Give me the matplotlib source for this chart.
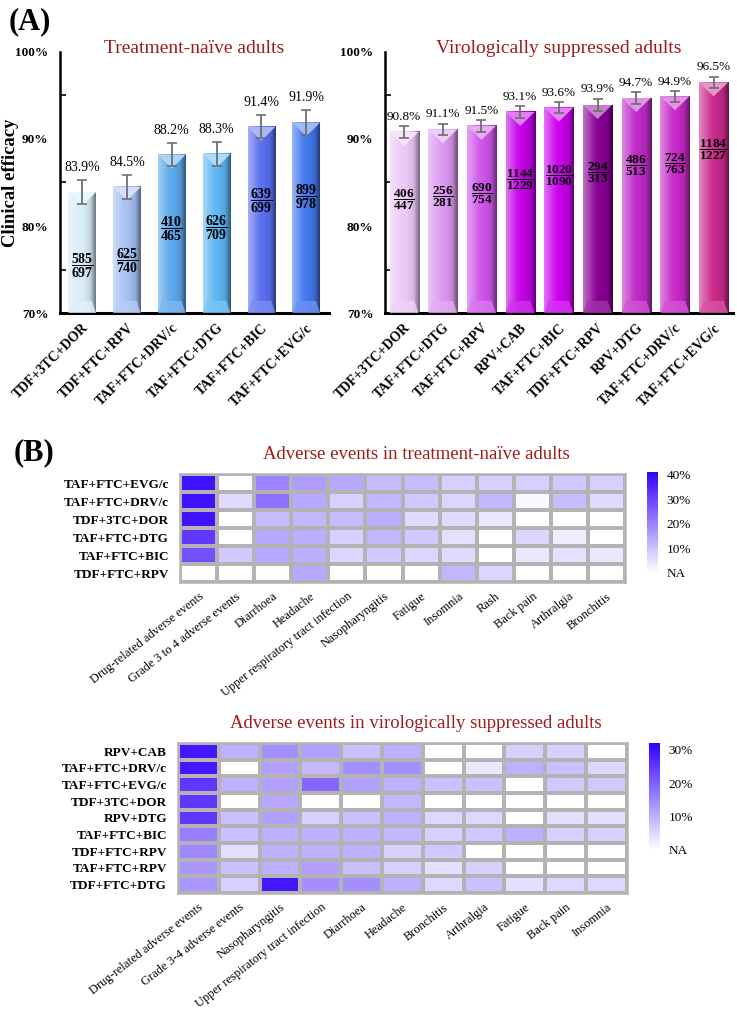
import matplotlib
matplotlib.use('Agg')
import matplotlib.pyplot as plt
import matplotlib.colors as mcolors
from matplotlib.patches import Polygon
import numpy as np

plt.rcParams['font.family'] = ['Liberation Serif', 'DejaVu Serif']
plt.rcParams['mathtext.fontset'] = 'custom'
plt.rcParams['mathtext.rm'] = 'Liberation Serif'
plt.rcParams['mathtext.bf'] = 'Liberation Serif:bold'

# ---- panel A data ----
naive_regimens = ['TDF+3TC+DOR', 'TDF+FTC+RPV', 'TAF+FTC+DRV/c', 'TAF+FTC+DTG',
                  'TAF+FTC+BIC', 'TAF+FTC+EVG/c']
naive_eff = [83.9, 84.5, 88.2, 88.3, 91.4, 91.9]
naive_err = [1.4, 1.35, 1.35, 1.35, 1.3, 1.4]
naive_num = [585, 625, 410, 626, 639, 899]
naive_den = [697, 740, 465, 709, 699, 978]
naive_colors = ['#d8ecfa', '#a4c0f4', '#5aa8ec', '#5cb6f2', '#5a6ff0', '#4477ee']

supp_regimens = ['TDF+3TC+DOR', 'TAF+FTC+DTG', 'TAF+FTC+RPV', 'RPV+CAB', 'TAF+FTC+BIC',
                 'TDF+FTC+RPV', 'RPV+DTG', 'TAF+FTC+DRV/c', 'TAF+FTC+EVG/c']
supp_eff = [90.8, 91.1, 91.5, 93.1, 93.6, 93.9, 94.7, 94.9, 96.5]
supp_err = [0.65, 0.65, 0.65, 0.65, 0.65, 0.7, 0.65, 0.6, 0.65]
supp_num = [406, 256, 690, 1144, 1020, 294, 486, 724, 1184]
supp_den = [447, 281, 754, 1229, 1090, 313, 513, 763, 1227]
supp_colors = ['#ecc8f6', '#dc98f0', '#cf55ea', '#c400e6', '#cc00f0', '#8a0096',
               '#c02ac8', '#c828c8', '#cc2a8c']

# ---- panel B data ----
ae1_rows = ['TAF+FTC+EVG/c', 'TAF+FTC+DRV/c', 'TDF+3TC+DOR', 'TAF+FTC+DTG',
            'TAF+FTC+BIC', 'TDF+FTC+RPV']
ae1_cols = ['Drug-related adverse events', 'Grade 3 to 4 adverse events', 'Diarrhoea',
            'Headache', 'Upper respiratory tract infection', 'Nasopharyngitis', 'Fatigue',
            'Insomnia', 'Rash', 'Back pain', 'Arthralgia', 'Bronchitis']
ae1_vals = [
    [38, 0, 20, 16, 14, 11, 11, 8, 8, 8, 9, 8],
    [38, 6, 23, 14, 8, 12, 9, 7, 12, 1.5, 11, 6],
    [38, 0, 11, 12, 11, 13, 6, 6, 4, 0, 0, 0],
    [32, 0, 14, 13, 8, 12, 9, 5, 0, 7, 3, 0],
    [28, 9, 14, 13, 7, 9, 7, 6, 0, 4, 5, 4],
    [0, 0, 0, 14, 0, 0, 0, 12, 7, 0, 0, 0],
]

ae2_rows = ['RPV+CAB', 'TAF+FTC+DRV/c', 'TAF+FTC+EVG/c', 'TDF+3TC+DOR', 'RPV+DTG',
            'TAF+FTC+BIC', 'TDF+FTC+RPV', 'TAF+FTC+RPV', 'TDF+FTC+DTG']
ae2_cols = ['Drug-related adverse events', 'Grade 3-4 adverse events', 'Nasopharyngitis',
            'Upper respiratory tract infection', 'Diarrhoea', 'Headache', 'Bronchitis',
            'Arthralgia', 'Fatigue', 'Back pain', 'Insomnia']
ae2_vals = [
    [29, 10, 14, 12, 8, 10, 0, 0, 6, 6, 0],
    [29, 0, 12, 9, 14, 14, 0, 3, 10, 8, 5],
    [25, 10, 12, 19, 12, 10, 8, 8, 0, 7, 7],
    [25, 0, 11, 0, 0, 9, 0, 0, 0, 0, 0],
    [25, 8, 12, 6, 8, 10, 5, 5, 0, 4, 4],
    [16, 8, 10, 10, 10, 9, 6, 7, 10, 6, 6],
    [15, 4, 10, 10, 10, 6, 7, 0, 0, 0, 0],
    [13, 8, 10, 12, 8, 6, 4, 6, 0, 0, 0],
    [13, 6, 29, 14, 14, 10, 5, 8, 4, 5, 5],
]

title_red = '#9e1b1b'


def mix(rgb, s):
    rgb = np.asarray(rgb)
    if s >= 0:
        return rgb + (1 - rgb) * s
    return rgb * (1 + s)


def shade_bars(ax, bars, colors, ybase):
    # fake 3D look: horizontal gradient, light notch on top, bevel at bottom
    t = np.linspace(0, 1, 80)
    s = np.interp(t, [0, 0.4, 0.8, 1], [0.45, 0.05, -0.1, -0.5])
    for rect, c in zip(bars, colors):
        base = np.array(mcolors.to_rgb(c))
        img = np.clip(np.array([[mix(base, v) for v in s]] * 2), 0, 1)
        x0, w, h = rect.get_x(), rect.get_width(), rect.get_height()
        ax.imshow(img, extent=[x0, x0 + w, ybase, h], aspect='auto',
                  interpolation='bilinear', zorder=2)
        rect.set_visible(False)
        dh = 1.6
        tri = Polygon([[x0, h], [x0 + w, h], [x0 + w / 2, h - dh]], closed=True,
                      facecolor=mix(base, 0.5), edgecolor='none', zorder=3)
        ax.add_patch(tri)
        bev = Polygon([[x0, ybase], [x0 + w, ybase], [x0 + w * 0.85, ybase + 1.4],
                       [x0 + w * 0.15, ybase + 1.4]], closed=True,
                      facecolor=mix(base, 0.2), edgecolor='none', alpha=0.8, zorder=3)
        ax.add_patch(bev)


def bar_panel(ax, labels, vals, errs, nums, dens, colors, width, title, pct_size, frac_off,
              pct_gap, frac_size):
    x = np.arange(len(labels))
    bars = ax.bar(x, vals, width, color=colors, zorder=2)
    shade_bars(ax, bars, colors, 70)
    ax.errorbar(x, vals, yerr=errs, fmt='none', ecolor='#6e6e6e', elinewidth=1.3,
                capsize=3.5, capthick=1.2, zorder=5)
    for xi, v, e, n, d in zip(x, vals, errs, nums, dens):
        ax.text(xi, v + e + pct_gap, '%.1f%%' % v, ha='center', va='bottom',
                fontsize=pct_size, zorder=6)
        ax.text(xi, v - frac_off, r'$\dfrac{\mathbf{%d}}{\mathbf{%d}}$' % (n, d),
                ha='center', va='center', fontsize=frac_size, zorder=6)
    ax.set_xlim(-0.5, len(labels) - 0.5)
    ax.set_ylim(70, 100)
    ax.set_yticks([70, 80, 90, 100])
    ax.set_yticklabels(['70%', '80%', '90%', '100%'], fontweight='bold', fontsize=9.5)
    ax.set_yticks([75, 85, 95], minor=True)
    ax.tick_params(axis='y', which='major', length=0, pad=8)
    ax.tick_params(axis='y', which='minor', length=4, direction='in', width=1.2)
    ax.set_xticks(x)
    ax.set_xticklabels(labels, rotation=45, ha='right', rotation_mode='anchor',
                       fontweight='bold', fontsize=10)
    ax.tick_params(axis='x', length=0, pad=6)
    for sp in ['top', 'right']:
        ax.spines[sp].set_visible(False)
    ax.spines['left'].set_linewidth(1.8)
    ax.spines['bottom'].set_linewidth(2.2)
    ax.text(0.5, 1.015, title, transform=ax.transAxes, ha='center', va='center',
            fontsize=14, color=title_red)


def heat_panel(fig, ax, cax, rows, cols, vals, vmax, cticks, title):
    cmap = mcolors.LinearSegmentedColormap.from_list('wb', ['#ffffff', '#3300ff'])
    mesh = ax.pcolormesh(np.array(vals, dtype=float), cmap=cmap, vmin=0, vmax=vmax,
                         edgecolors='#b3b3b3', linewidth=1.6)
    ax.invert_yaxis()
    ax.set_xticks(np.arange(len(cols)) + 0.5)
    ax.set_xticklabels(cols, rotation=38, ha='right', rotation_mode='anchor', fontsize=9)
    ax.set_yticks(np.arange(len(rows)) + 0.5)
    ax.set_yticklabels(rows, fontweight='bold', fontsize=9.5)
    ax.tick_params(length=0)
    ax.tick_params(axis='x', pad=6)
    ax.tick_params(axis='y', pad=8)
    for sp in ax.spines.values():
        sp.set_color('#b3b3b3')
        sp.set_linewidth(1.8)
    ax.set_title(title, fontsize=13.5, color=title_red, pad=11, x=0.53)
    cb = fig.colorbar(mesh, cax=cax, ticks=cticks)
    cb.ax.set_yticklabels(['NA'] + ['%d%%' % v for v in cticks[1:]], fontsize=9.5)
    cb.ax.tick_params(length=0, pad=6)
    cb.outline.set_visible(False)


fig = plt.figure(figsize=(7.37, 10.15), dpi=100)

ax1 = fig.add_axes([0.081, 0.6916, 0.365, 0.2572])
ax2 = fig.add_axes([0.522, 0.6916, 0.4725, 0.2572])
bar_panel(ax1, naive_regimens, naive_eff, naive_err, naive_num, naive_den, naive_colors,
          0.62, 'Treatment-naïve adults', 10, 8.5, 0.7, 10)
bar_panel(ax2, supp_regimens, supp_eff, supp_err, supp_num, supp_den, supp_colors,
          0.75, 'Virologically suppressed adults', 9.5, 7.8, 0.4, 9.5)
ax1.set_ylabel('Clinical efficacy', fontsize=13.5, fontweight='bold')
ax1.yaxis.set_label_coords(-0.15, 0.5)

ax3 = fig.add_axes([0.2442, 0.4266, 0.604, 0.1064])
cax3 = fig.add_axes([0.878, 0.4355, 0.015, 0.0995])
heat_panel(fig, ax3, cax3, ae1_rows, ae1_cols, ae1_vals, 41, [0, 10, 20, 30, 40],
           'Adverse events in treatment-naïve adults')

ax4 = fig.add_axes([0.2415, 0.1202, 0.609, 0.1478])
cax4 = fig.add_axes([0.8806, 0.1626, 0.015, 0.1054])
heat_panel(fig, ax4, cax4, ae2_rows, ae2_cols, ae2_vals, 32, [0, 10, 20, 30],
           'Adverse events in virologically suppressed adults')

fig.text(0.012, 0.993, '(A)', fontsize=22, fontweight='bold', va='top')
fig.text(0.018, 0.568, '(B)', fontsize=22, fontweight='bold', va='top')

fig.savefig('out.png', dpi=100)
